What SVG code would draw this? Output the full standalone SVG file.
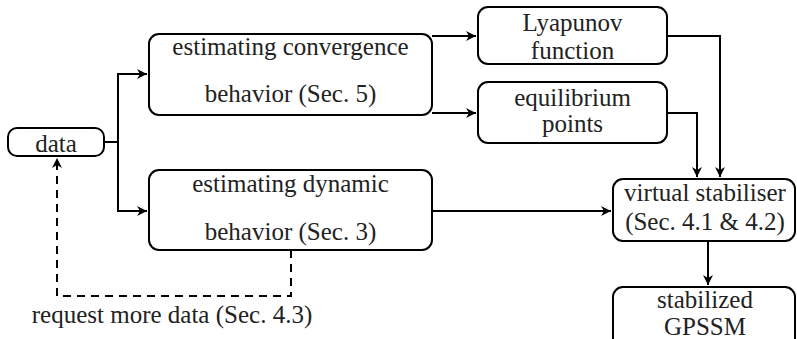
<svg xmlns="http://www.w3.org/2000/svg" width="797" height="339" viewBox="0 0 797 339">
<defs>
<marker id="a" markerWidth="12" markerHeight="10" refX="10" refY="5" orient="auto" markerUnits="userSpaceOnUse">
<path d="M0,0 L10,5 L0,10 L3,5 Z" fill="#000"/>
</marker>
</defs>
<g id="connectors" fill="none" stroke="#000" stroke-width="2">
<path d="M104,142 H118 V74 H147" marker-end="url(#a)"/>
<path d="M118,142 V211 H147" marker-end="url(#a)"/>
<path d="M432,36 H476" marker-end="url(#a)"/>
<path d="M432,113 H476" marker-end="url(#a)"/>
<path d="M667,36 H720 V177" marker-end="url(#a)"/>
<path d="M667,113 H697 V177" marker-end="url(#a)"/>
<path d="M432,211 H611" marker-end="url(#a)"/>
<path d="M708,241 V285" marker-end="url(#a)"/>
<path d="M291,250 V296 H57 V158" stroke-dasharray="8,6" marker-end="url(#a)"/>
</g>
<g id="data"><rect x="8" y="128" width="96" height="28" rx="9" fill="#fff" stroke="#000" stroke-width="2"/><text style="font-family:'Liberation Serif',serif;font-size:25px" fill="#222" text-anchor="middle" x="56" y="152">data</text></g>
<g id="conv"><rect x="149" y="34" width="283" height="81" rx="10" fill="#fff" stroke="#000" stroke-width="2"/><text style="font-family:'Liberation Serif',serif;font-size:25px" fill="#222" text-anchor="middle" x="290.5" y="55">estimating convergence</text><text style="font-family:'Liberation Serif',serif;font-size:25px" fill="#222" text-anchor="middle" x="290.5" y="102">behavior (Sec. 5)</text></g>
<g id="dyn"><rect x="149" y="170" width="283" height="80" rx="10" fill="#fff" stroke="#000" stroke-width="2"/><text style="font-family:'Liberation Serif',serif;font-size:25px" fill="#222" text-anchor="middle" x="290.5" y="192">estimating dynamic</text><text style="font-family:'Liberation Serif',serif;font-size:25px" fill="#222" text-anchor="middle" x="290.5" y="240">behavior (Sec. 3)</text></g>
<g id="lyap"><rect x="478" y="7" width="189" height="57" rx="10" fill="#fff" stroke="#000" stroke-width="2"/><text style="font-family:'Liberation Serif',serif;font-size:25px" fill="#222" text-anchor="middle" x="572.5" y="31">Lyapunov</text><text style="font-family:'Liberation Serif',serif;font-size:25px" fill="#222" text-anchor="middle" x="572.5" y="59">function</text></g>
<g id="equil"><rect x="478" y="82" width="189" height="61" rx="10" fill="#fff" stroke="#000" stroke-width="2"/><text style="font-family:'Liberation Serif',serif;font-size:25px" fill="#222" text-anchor="middle" x="572.5" y="106">equilibrium</text><text style="font-family:'Liberation Serif',serif;font-size:25px" fill="#222" text-anchor="middle" x="572.5" y="132">points</text></g>
<g id="virtual"><rect x="613" y="179" width="182" height="62" rx="10" fill="#fff" stroke="#000" stroke-width="2"/><text style="font-family:'Liberation Serif',serif;font-size:25px" fill="#222" text-anchor="middle" x="705" y="201">virtual stabiliser</text><text style="font-family:'Liberation Serif',serif;font-size:25px" fill="#222" text-anchor="middle" x="705" y="230">(Sec. 4.1 &amp; 4.2)</text></g>
<g id="stab"><rect x="613" y="287" width="182" height="70" rx="10" fill="#fff" stroke="#000" stroke-width="2"/><text style="font-family:'Liberation Serif',serif;font-size:25px" fill="#222" text-anchor="middle" x="705" y="308">stabilized</text><text style="font-family:'Liberation Serif',serif;font-size:25px" fill="#222" text-anchor="middle" x="705" y="335">GPSSM</text></g>
<text style="font-family:'Liberation Serif',serif;font-size:25px" fill="#222" text-anchor="middle" x="172" y="323">request more data (Sec. 4.3)</text>
</svg>
